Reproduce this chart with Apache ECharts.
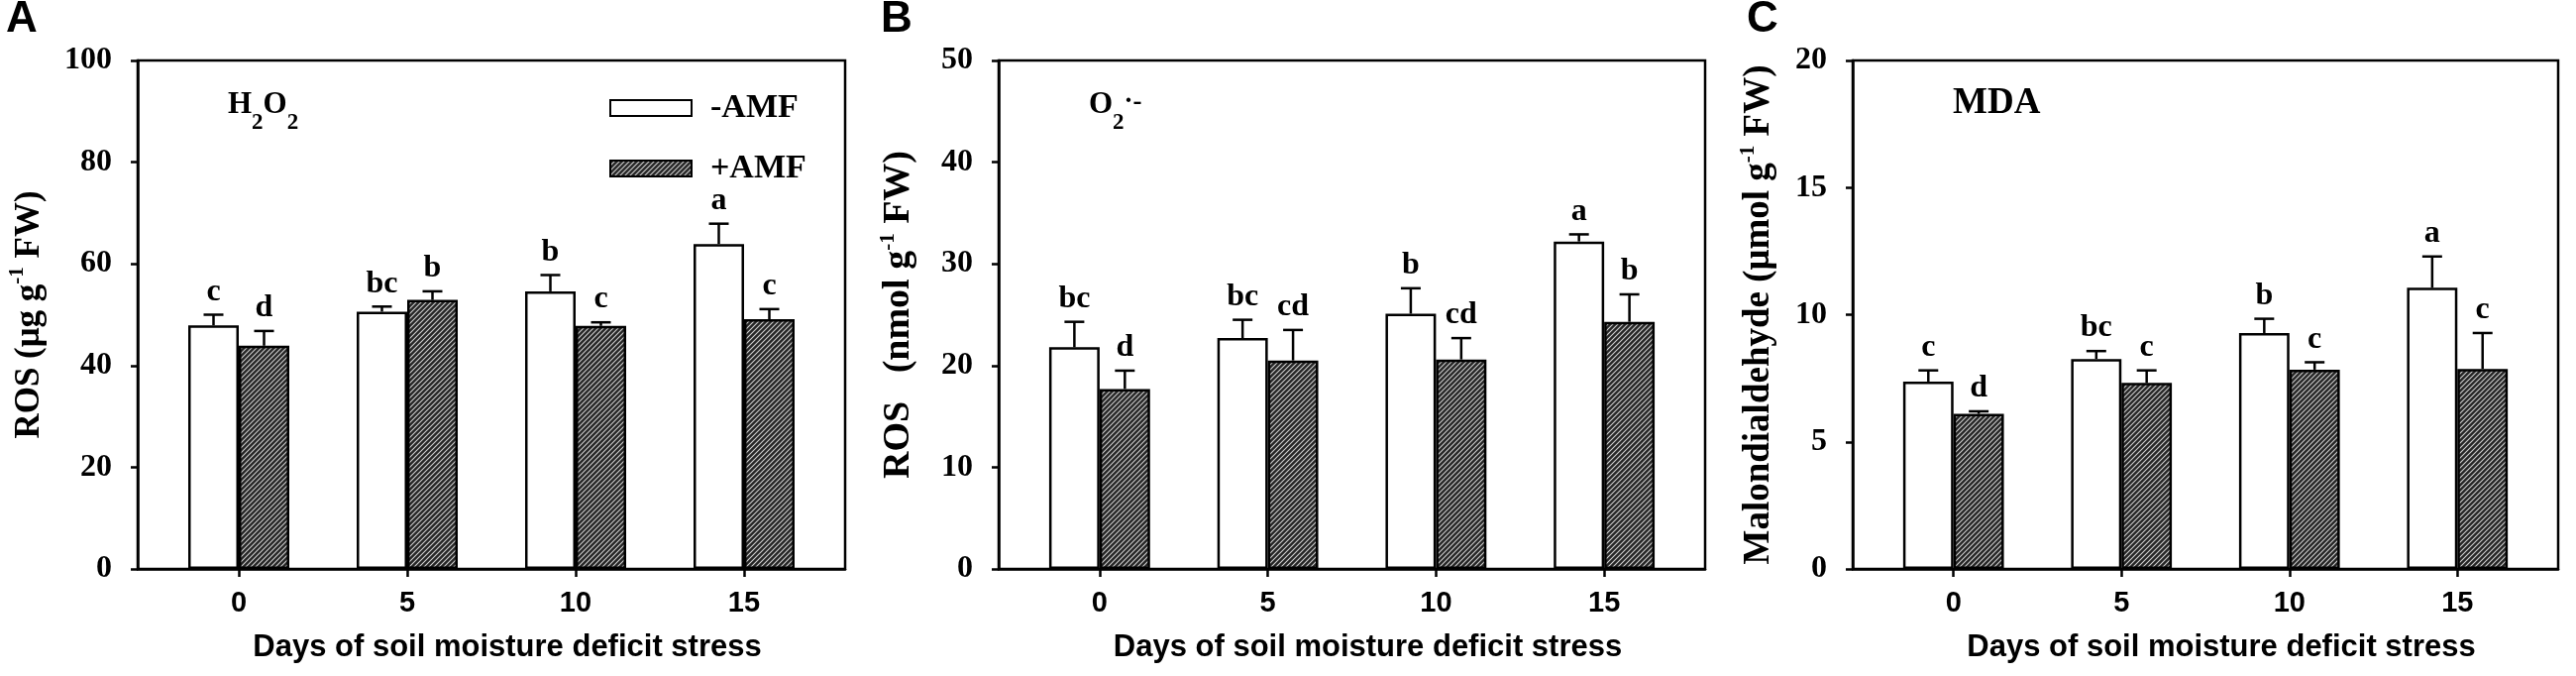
<!DOCTYPE html>
<html><head><meta charset="utf-8">
<script src="https://cdn.jsdelivr.net/npm/echarts@6.0.0/dist/echarts.min.js"></script>
<style>html,body{margin:0;padding:0;background:#fff}#c{width:2600px;height:682px}</style>
</head><body><div id="c"></div>
<script>
// ---------- data ----------
const days = [0, 5, 10, 15];
const seriesNames = ['-AMF', '+AMF'];
const xTitle = 'Days of soil moisture deficit stress';

// Panel A: H2O2 (µg g-1 FW)
const h2o2_noAMF     = [47.9, 50.6, 54.6, 63.9];
const h2o2_noAMF_err = [2.1, 1.0, 3.2, 4.0];
const h2o2_AMF       = [43.9, 52.9, 47.8, 49.1];
const h2o2_AMF_err   = [2.9, 1.7, 0.7, 2.0];
const h2o2_noAMF_let = ['c', 'bc', 'b', 'a'];
const h2o2_AMF_let   = ['d', 'b', 'c', 'c'];

// Panel B: O2·- (nmol g-1 FW)
const o2_noAMF     = [21.8, 22.7, 25.1, 32.2];
const o2_noAMF_err = [2.5, 1.8, 2.5, 0.7];
const o2_AMF       = [17.7, 20.5, 20.6, 24.3];
const o2_AMF_err   = [1.8, 3.0, 2.1, 2.7];
const o2_noAMF_let = ['bc', 'bc', 'b', 'a'];
const o2_AMF_let   = ['d', 'cd', 'cd', 'b'];

// Panel C: MDA (µmol g-1 FW)
const mda_noAMF     = [7.37, 8.26, 9.28, 11.06];
const mda_noAMF_err = [0.44, 0.31, 0.56, 1.23];
const mda_AMF       = [6.10, 7.32, 7.84, 7.87];
const mda_AMF_err   = [0.10, 0.49, 0.29, 1.41];
const mda_noAMF_let = ['c', 'bc', 'b', 'a'];
const mda_AMF_let   = ['d', 'c', 'c', 'c'];

const yMax = [100, 50, 20];
const yStep = [20, 10, 5];
const panelLetters = ['A', 'B', 'C'];

// ---------- layout / style ----------
const grids = [
  {left: 139, top: 61, width: 714, height: 513},
  {left: 1008, top: 61, width: 713, height: 513},
  {left: 1870, top: 61, width: 712, height: 513}
];
const X_MIN = -3, X_MAX = 18, BAR_DAYS = 1.5;
const SERIF = '"Liberation Serif", "Times New Roman", serif';
const SANS = '"Liberation Sans", Arial, sans-serif';

function hatchPattern() {
  const s = 5;
  const c = document.createElement('canvas');
  c.width = s; c.height = s;
  const g = c.getContext('2d');
  g.fillStyle = '#262626'; g.fillRect(0, 0, s, s);
  g.strokeStyle = '#cfcfcf'; g.lineWidth = 1.1;
  g.beginPath();
  g.moveTo(-1, s + 1); g.lineTo(s + 1, -1);
  g.moveTo(-s / 2 - 1, s / 2 + 1); g.lineTo(s / 2 + 1, -s / 2 - 1);
  g.moveTo(s / 2 - 1, s * 1.5 + 1); g.lineTo(s * 1.5 + 1, s / 2 - 1);
  g.stroke();
  return c;
}
const hatch = {image: hatchPattern(), repeat: 'repeat'};

const panels = [
  {vals: [h2o2_noAMF, h2o2_AMF], errs: [h2o2_noAMF_err, h2o2_AMF_err], lets: [h2o2_noAMF_let, h2o2_AMF_let],
   yName: '{t|ROS (μg g}{sup|-1}{t| FW)}', nameGap: 92, nameSize: 35},
  {vals: [o2_noAMF, o2_AMF], errs: [o2_noAMF_err, o2_AMF_err], lets: [o2_noAMF_let, o2_AMF_let],
   yName: '{t|ROS   (nmol g}{sup|-1}{t| FW)}', nameGap: 82, nameSize: 38},
  {vals: [mda_noAMF, mda_AMF], errs: [mda_noAMF_err, mda_AMF_err], lets: [mda_noAMF_let, mda_AMF_let],
   yName: '{t|Malondialdehyde (μmol g}{sup|-1}{t| FW)}', nameGap: 76, nameSize: 37}
];

const axisLineStyle = {color: '#000', width: 2.5};
const richLbl = {
  n: {fontFamily: SERIF, fontSize: 31, fontWeight: 'bold', color: '#000', lineHeight: 28, verticalAlign: 'top'},
  s: {fontFamily: SERIF, fontSize: 23, fontWeight: 'bold', color: '#000', lineHeight: 46, verticalAlign: 'bottom'},
  p: {fontFamily: SERIF, fontSize: 27, fontWeight: 'bold', color: '#000', lineHeight: 8, verticalAlign: 'top'},
  m: {fontFamily: SERIF, fontSize: 37, fontWeight: 'bold', color: '#000'}
};
const option = {
  animation: false,
  backgroundColor: '#fff',
  title: [
    {text: '{n|H}{s|2}{n|O}{s|2}', left: 230, top: 90, padding: 0, textStyle: {rich: richLbl}},
    {text: '{n|O}{s|2}{p|·-}', left: 1099, top: 90, padding: 0, textStyle: {rich: richLbl}},
    {text: '{m|MDA}', left: 1971, top: 86, padding: 0, textStyle: {rich: richLbl}}
  ],
  grid: grids.map(g => Object.assign({show: true, borderColor: '#000', borderWidth: 2.5, backgroundColor: 'transparent'}, g)),
  xAxis: grids.map((g, i) => ({
    type: 'value', gridIndex: i, min: X_MIN, max: X_MAX,
    axisLine: {show: true, onZero: false, lineStyle: axisLineStyle},
    axisTick: {show: true, inside: false, length: 8, lineStyle: axisLineStyle, customValues: days},
    axisLabel: {show: true, customValues: days, margin: 20, color: '#000', fontFamily: SANS, fontWeight: 'bold', fontSize: 29},
    splitLine: {show: false},
    name: xTitle, nameLocation: 'middle', nameGap: 64,
    nameTextStyle: {color: '#000', fontFamily: SANS, fontWeight: 'bold', fontSize: 31, padding: [0, 0, 0, 32]}
  })),
  yAxis: grids.map((g, i) => ({
    type: 'value', gridIndex: i, min: 0, max: yMax[i], interval: yStep[i],
    axisLine: {show: true, onZero: false, lineStyle: axisLineStyle},
    axisTick: {show: true, inside: false, length: 7, lineStyle: axisLineStyle},
    axisLabel: {color: '#000', fontFamily: SERIF, fontWeight: 'bold', fontSize: 32, margin: 26},
    splitLine: {show: false},
    name: panels[i].yName, nameLocation: 'middle', nameGap: panels[i].nameGap,
    nameTextStyle: {
      color: '#000',
      rich: {
        t: {fontFamily: SERIF, fontWeight: 'bold', fontSize: panels[i].nameSize, color: '#000', lineHeight: 40, verticalAlign: 'bottom'},
        sup: {fontFamily: SERIF, fontWeight: 'bold', fontSize: 21, color: '#000', lineHeight: 22, verticalAlign: 'top'}
      }
    }
  })),
  legend: {
    show: true, data: seriesNames, orient: 'vertical', left: 615, top: 92, padding: 0,
    itemWidth: 82, itemHeight: 16, itemGap: 27, icon: 'rect',
    textStyle: {fontFamily: SERIF, fontWeight: 'bold', fontSize: 34, color: '#000', lineHeight: 16, padding: [0, 0, 0, 14]}
  },
  graphic: [],
  series: []
};

panelLetters.forEach((L, i) => {
  option.graphic.push({type: 'text', left: [6, 889, 1763][i], top: -2,
    style: {text: L, font: 'bold 44px ' + SANS, fill: '#000'}});
});

panels.forEach((p, i) => {
  const bw = grids[i].width / (X_MAX - X_MIN) * BAR_DAYS;
  [0, 1].forEach(k => {
    option.series.push({
      type: 'bar', name: seriesNames[k], xAxisIndex: i, yAxisIndex: i,
      data: days.map((d, j) => [d, p.vals[k][j]]),
      barWidth: bw, barGap: '0%',
      itemStyle: k === 0 ? {color: '#fff', borderColor: '#000', borderWidth: 2.5}
                         : {color: hatch, borderColor: '#000', borderWidth: 2.5}
    });
  });
  [0, 1].forEach(k => {
    const side = k === 0 ? -0.5 : 0.5;
    const lets = p.lets[k];
    option.series.push({
      type: 'custom', xAxisIndex: i, yAxisIndex: i, z: 10, silent: true,
      data: days.map((d, j) => [d, p.vals[k][j], p.errs[k][j]]),
      renderItem: (params, api) => {
        const x = api.value(0), v = api.value(1), e = api.value(2);
        const base = api.coord([x, v]);
        const top = api.coord([x, v + e]);
        const cx = base[0] + side * bw;
        return {type: 'group', children: [
          {type: 'line', shape: {x1: cx, y1: base[1], x2: cx, y2: top[1]}, style: {stroke: '#000', lineWidth: 2.5}},
          {type: 'line', shape: {x1: cx - 10, y1: top[1], x2: cx + 10, y2: top[1]}, style: {stroke: '#000', lineWidth: 2.5}},
          {type: 'text', style: {text: lets[params.dataIndex], x: cx, y: top[1] - 7, align: 'center', verticalAlign: 'bottom',
            font: 'bold 32px ' + SERIF, fill: '#000'}}
        ]};
      }
    });
  });
});

const chart = echarts.init(document.getElementById('c'), null, {renderer: 'canvas'});
chart.setOption(option);
</script>
</body></html>
